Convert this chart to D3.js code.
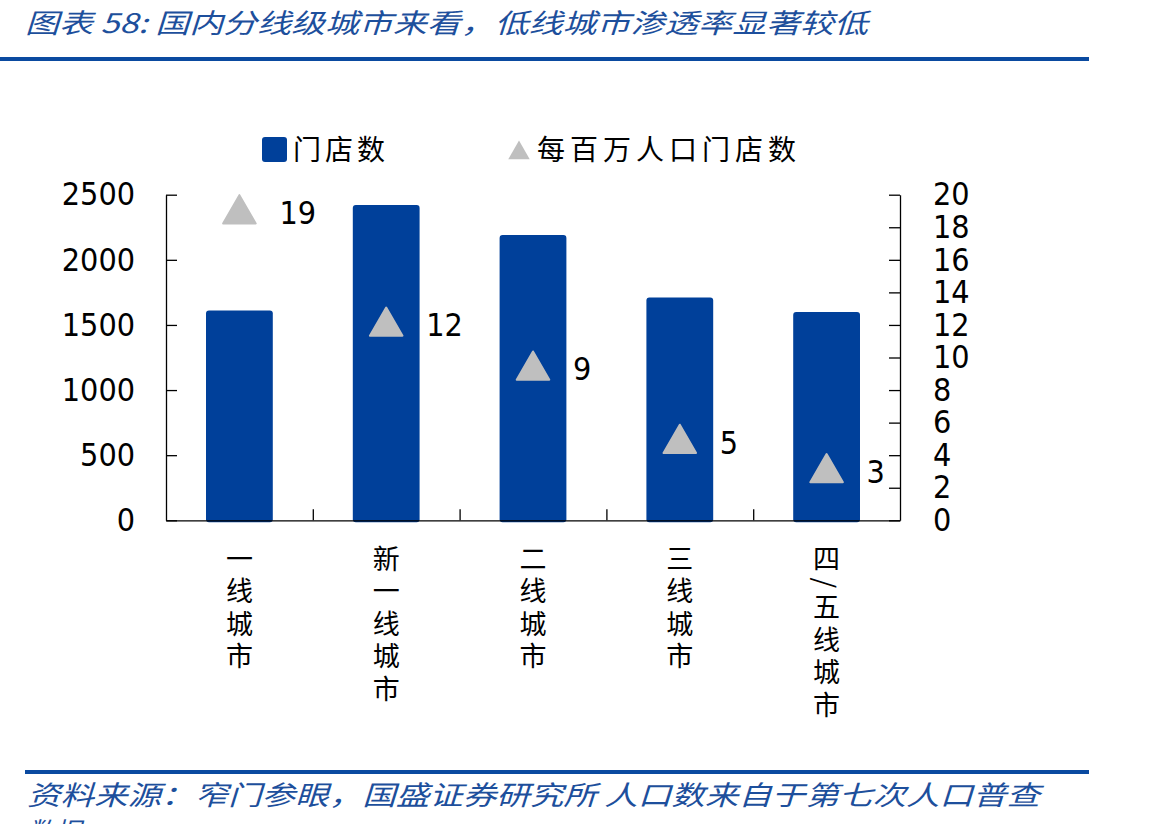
<!DOCTYPE html>
<html><head><meta charset="utf-8">
<script src="https://cdn.jsdelivr.net/npm/d3@7"></script>
<style>
html,body{margin:0;padding:0;background:#fff;}
svg{display:block;}
</style></head>
<body>
<svg id="chart" width="1170" height="824"></svg>
<script>
const categories = ["一线城市", "新一线城市", "二线城市", "三线城市", "四/五线城市"];
const storeCounts = [1610, 2420, 2190, 1710, 1600];
const storesPerMillion = [19.0, 12.1, 9.4, 4.9, 3.1];
const leftTicks = [0, 500, 1000, 1500, 2000, 2500];
const rightTicks = [0, 2, 4, 6, 8, 10, 12, 14, 16, 18, 20];
const seriesNames = ["门店数", "每百万人口门店数"];
const titleText = "图表 58:  国内分线级城市来看，低线城市渗透率显著较低";
const sourceText = "资料来源：窄门参眼，国盛证券研究所 人口数来自于第七次人口普查";
const sourceText2 = "数据";

const blue = "#00409a";
const gray = "#bfbfbf";
const cjk = "'Noto Sans CJK SC', sans-serif";
const num = "'DejaVu Sans Condensed', 'DejaVu Sans', sans-serif";

const svg = d3.select("#chart");
const plot = {left: 166, right: 900, top: 194.7, bottom: 520.3};

// header
svg.append("text").attr("x", 25).attr("y", 33)
  .attr("font-family", cjk).attr("font-size", 27).attr("font-style", "italic")
  .attr("fill", "#1d4f9c")
  .attr("textLength", 843).attr("lengthAdjust", "spacingAndGlyphs")
  .text(titleText);
svg.append("rect").attr("x", 0).attr("y", 57).attr("width", 1089).attr("height", 4).attr("fill", "#0a4aa0");

// footer
svg.append("rect").attr("x", 25).attr("y", 770).attr("width", 1064).attr("height", 4).attr("fill", "#0a4aa0");
svg.append("text").attr("x", 27).attr("y", 805)
  .attr("font-family", cjk).attr("font-size", 27).attr("font-style", "italic")
  .attr("fill", "#1d4f9c")
  .attr("textLength", 1013).attr("lengthAdjust", "spacingAndGlyphs")
  .text(sourceText);
svg.append("text").attr("x", 27).attr("y", 842)
  .attr("font-family", cjk).attr("font-size", 27).attr("font-style", "italic")
  .attr("fill", "#1d4f9c")
  .text(sourceText2);

// scales
const x = d3.scaleBand().domain(categories).range([plot.left, plot.right]).paddingInner(0.545).paddingOuter(0.2725);
const xb = d3.scaleLinear().domain([0, categories.length]).range([plot.left, plot.right]);
const yL = d3.scaleLinear().domain([0, 2500]).range([plot.bottom, plot.top]);
const yR = d3.scaleLinear().domain([0, 20]).range([plot.bottom, plot.top]);

// bars
svg.append("g").selectAll("rect").data(categories).join("rect")
  .attr("x", d => x(d))
  .attr("width", x.bandwidth())
  .attr("y", (d, i) => yL(storeCounts[i]))
  .attr("height", (d, i) => yL(0) - yL(storeCounts[i]) + 2)
  .attr("rx", 3).attr("fill", blue);

// axes
function styleAxis(g) {
  g.selectAll("path,line").attr("stroke", "#000").attr("stroke-width", 1.3);
  g.selectAll("text").attr("font-family", num).attr("font-size", 32).attr("fill", "#000");
}
svg.append("g").attr("transform", `translate(${plot.left},0)`)
  .call(d3.axisLeft(yL).tickValues(leftTicks).tickFormat(d3.format("d")).tickSizeInner(-11).tickSizeOuter(0).tickPadding(31))
  .call(styleAxis);
svg.append("g").attr("transform", `translate(${plot.right},0)`)
  .call(d3.axisRight(yR).tickValues(rightTicks).tickFormat(d3.format("d")).tickSizeInner(-11).tickSizeOuter(0).tickPadding(33))
  .call(styleAxis);
svg.append("g").attr("transform", `translate(0,${plot.bottom})`)
  .call(d3.axisBottom(xb).tickValues(d3.range(1, categories.length)).tickSizeInner(-11).tickSizeOuter(0).tickFormat(""))
  .call(styleAxis);

// triangles
const tri = d3.symbol().type(d3.symbolTriangle).size(460);
const cx = d => x(d) + x.bandwidth() / 2;
svg.append("g").selectAll("path").data(categories).join("path")
  .attr("d", tri)
  .attr("transform", (d, i) => `translate(${cx(d)},${yR(storesPerMillion[i]) + 3})`)
  .attr("fill", gray).attr("stroke", gray).attr("stroke-width", 2).attr("stroke-linejoin", "round");
svg.append("g").selectAll("text").data(categories).join("text")
  .attr("x", d => cx(d) + 40)
  .attr("y", (d, i) => yR(storesPerMillion[i]) + 13)
  .attr("font-family", num).attr("font-size", 32).attr("fill", "#000")
  .text((d, i) => d3.format(".0f")(storesPerMillion[i]));

// vertical category labels
svg.append("g").selectAll("text").data(categories).join("text")
  .attr("x", d => cx(d)).attr("y", 545)
  .style("writing-mode", "vertical-rl")
  .attr("font-family", cjk).attr("font-size", 27).attr("letter-spacing", 5.5)
  .attr("fill", "#000")
  .text(d => d);

// legend
const lg = svg.append("g");
lg.append("rect").attr("x", 262).attr("y", 137).attr("width", 25).attr("height", 25).attr("rx", 3).attr("fill", blue);
lg.append("text").attr("x", 293).attr("y", 160).attr("font-family", cjk).attr("font-size", 28)
  .attr("letter-spacing", 4).attr("fill", "#000").text(seriesNames[0]);
lg.append("path").attr("d", d3.symbol().type(d3.symbolTriangle).size(200))
  .attr("transform", "translate(519,153)").attr("fill", gray);
lg.append("text").attr("x", 537).attr("y", 160).attr("font-family", cjk).attr("font-size", 28)
  .attr("letter-spacing", 5).attr("fill", "#000").text(seriesNames[1]);
</script>
</body></html>
